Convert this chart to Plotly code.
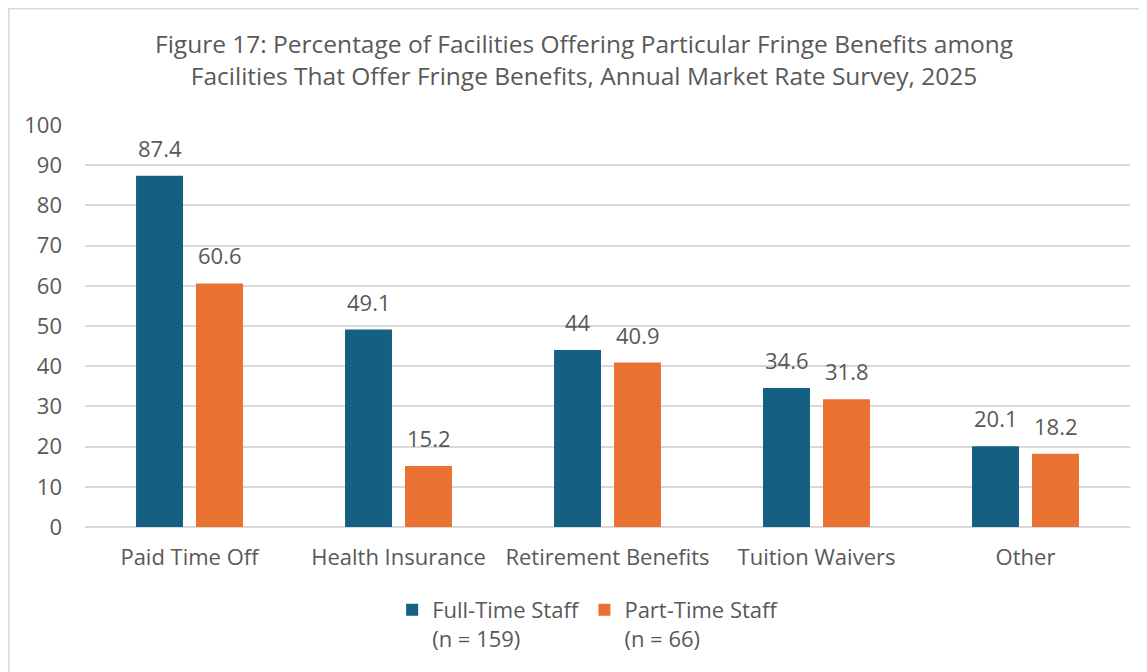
import plotly.graph_objects as go

categories = ["Paid Time Off", "Health Insurance", "Retirement Benefits", "Tuition Waivers", "Other"]
full_time = [87.4, 49.1, 44, 34.6, 20.1]
part_time = [60.6, 15.2, 40.9, 31.8, 18.2]
series_names = ["Full-Time Staff<br>(n = 159)", "Part-Time Staff<br>(n = 66)"]
y_ticks = [0, 10, 20, 30, 40, 50, 60, 70, 80, 90, 100]
title_text = ("Figure 17: Percentage of Facilities Offering Particular Fringe Benefits among<br>"
              "Facilities That Offer Fringe Benefits, Annual Market Rate Survey, 2025")

BLUE = "#156082"
ORANGE = "#E97132"
GREY = "#595959"
GRID = "#D9D9D9"
FONT = "Open Sans"
FS = 22

fig = go.Figure()
fig.add_trace(go.Bar(x=categories, y=full_time, name=series_names[0],
                     marker=dict(color=BLUE, line=dict(width=0))))
fig.add_trace(go.Bar(x=categories, y=part_time, name=series_names[1],
                     marker=dict(color=ORANGE, line=dict(width=0))))

annotations = []
for vals, shift in ((full_time, -30), (part_time, 30)):
    for c, v in zip(categories, vals):
        annotations.append(dict(x=c, y=v, xref="x", yref="y", text=f"{v:g}",
                                showarrow=False, xshift=shift, yshift=11,
                                yanchor="bottom",
                                font=dict(family=FONT, size=FS, color=GREY)))
annotations.append(dict(text=title_text, xref="paper", yref="paper", x=0.4775, y=1.1617,
                        xanchor="center", yanchor="middle", showarrow=False, align="center",
                        font=dict(family=FONT, size=24.5, color=GREY)))

fig.update_layout(
    width=1147, height=672,
    margin=dict(l=77, r=25, t=117, b=153),
    paper_bgcolor="white", plot_bgcolor="white",
    barmode="group", bargap=0.426, bargroupgap=0.217,
    font=dict(family=FONT, color=GREY, size=FS),
    legend=dict(orientation="h", x=0.481, xanchor="center", y=-0.154, yanchor="top",
                valign="top", font=dict(family=FONT, size=FS, color=GREY),
                traceorder="normal"),
    annotations=annotations,
    shapes=[dict(type="rect", xref="paper", yref="paper", x0=-0.0729, x1=1.04,
                 y0=-0.45, y1=1.2892, line=dict(color=GRID, width=1.5), layer="above")],
)
fig.update_xaxes(showgrid=False, showline=False, ticks="", tickfont=dict(size=FS, color=GREY),
                 ticklabelstandoff=15)
fig.update_yaxes(range=[0, 100], tickvals=y_ticks, showgrid=True, gridcolor=GRID, gridwidth=1.5,
                 zeroline=True, zerolinecolor=GRID, zerolinewidth=1.5, showline=False,
                 ticks="", tickfont=dict(size=FS, color=GREY), ticklabelstandoff=22)

fig.write_html("out.html")
